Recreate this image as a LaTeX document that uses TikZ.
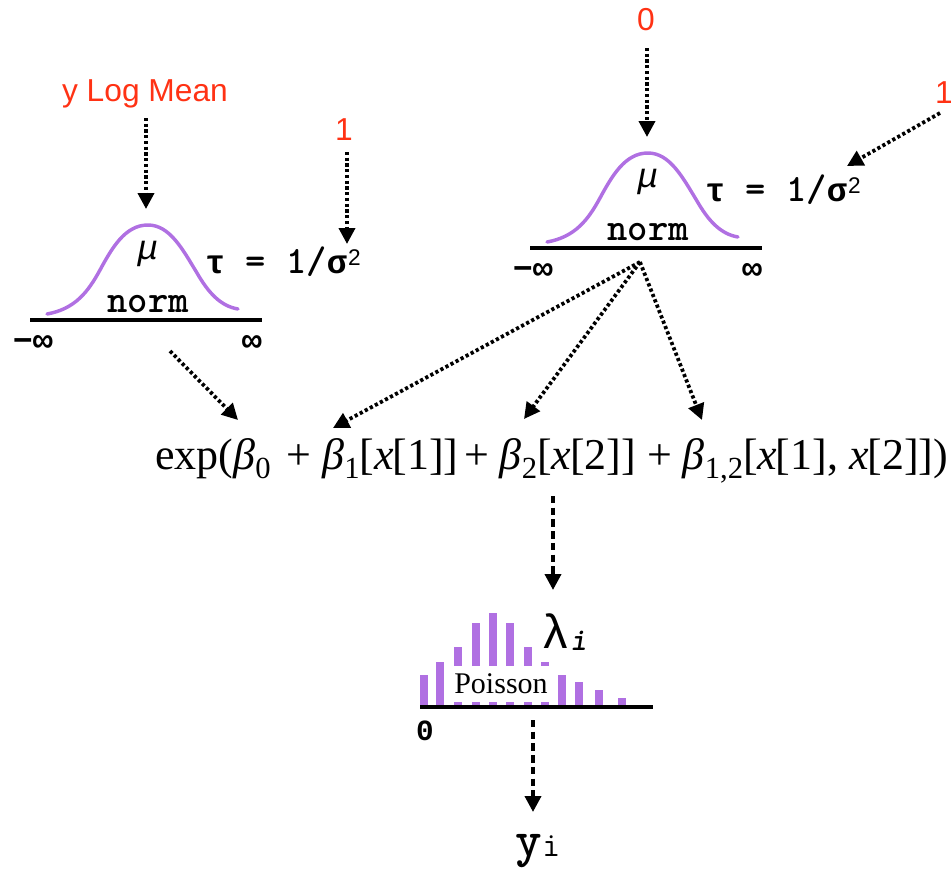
\documentclass[tikz,border=0pt]{standalone}
\usepackage{fontspec}
\setmainfont{Liberation Serif}
\setsansfont{Liberation Sans}
\newfontfamily\greekmono{Liberation Mono}
\usepackage{tikz}
\usetikzlibrary{arrows.meta, positioning}
\definecolor{labelred}{RGB}{255,50,20}
\definecolor{curvepurple}{RGB}{176,112,226}
\newcommand{\bsub}[1]{{\itshape β}\raisebox{-0.2em}{\fontsize{23}{26}\selectfont #1}}
\newcommand{\xvar}{{\itshape x}\kern-0.03em}
\newcommand{\gk}[1]{{\greekmono\fontsize{25}{28}\selectfont #1}}

\begin{document}
\begin{tikzpicture}[
    x=0.75pt, y=-0.75pt,
    redlabel/.style={inner sep=0pt, text=labelred, font=\sffamily\fontsize{23.8}{28}\selectfont},
    mono/.style={inner sep=0pt, font=\ttfamily\bfseries\fontsize{29}{32}\selectfont},
    limit/.style={inner sep=0pt, font=\greekmono\bfseries\fontsize{25}{28}\selectfont},
    axisline/.style={line width=2.8pt, black},
    bell/.style={line width=2.6pt, curvepurple, line cap=round},
    bar/.style={line width=6pt, curvepurple},
    dotarr/.style={-{Triangle[length=12pt, width=12pt]}, line width=2.8pt, dash pattern=on 2.4pt off 1.9pt},
    dasharr/.style={-{Triangle[length=12pt, width=12pt]}, line width=2.8pt, dash pattern=on 5.5pt off 3.3pt}
]
    \useasboundingbox (0,0) rectangle (951,869);

    % two normal priors
    \foreach \dx/\dy/\nm in {0/0/L, 500/-72/R} {
        \begin{scope}[shift={(\dx,\dy)}]
            \draw[bell] (47,314) .. controls (75,309) and (88,292) .. (100,270)
                .. controls (112,248) and (125,225) .. (148,225)
                .. controls (170,225) and (183,250) .. (197,273)
                .. controls (208,292) and (220,306) .. (238,309);
            \coordinate (axisa\nm) at (30,320);
            \coordinate (axisb\nm) at (262,320);
            \draw[axisline] (axisa\nm) -- (axisb\nm);
            \node (norm\nm) [mono] at (148,304) {norm};
            \node (mu\nm) [inner sep=0pt, font=\greekmono\itshape\fontsize{26}{28}\selectfont] at (148,254) {μ};
            \node (tau\nm) [mono, anchor=base west] at (205,273) {\gk{τ} = 1/\gk{σ}\kern1pt\raisebox{6pt}{\sffamily\mdseries\fontsize{17}{18}\selectfont 2}};
            \node (neg\nm) [limit] at (33,343) {−∞};
            \node (pos\nm) [limit] at (252,343) {∞};
        \end{scope}
    }

    \node (ymean) [redlabel] at (145,94) {y Log Mean};
    \node (oneL) [redlabel] at (344,130) {1};
    \node (zero) [redlabel] at (646,20) {0};
    \node (oneR) [redlabel] at (944,93) {1};

    \node (expr) [inner sep=0pt, anchor=west, font=\fontsize{33}{38}\selectfont] at (155,461)
        {exp(\bsub{0}\kern3.7pt{} + \bsub{1}[\xvar[1]]\kern-4pt{} + \bsub{2}[\xvar[2]] + \bsub{1,2}[\xvar[1], \xvar[2]])};

    % poisson bars
    \coordinate (base) at (420,707);
    \foreach \bx/\by in {424/675, 440/662, 458/647, 476/623, 493/613, 510/623, 528/647, 545/662, 562/675, 579/682, 599/690, 622/698} {
        \draw[bar] (\bx,707) -- (\bx,\by);
    }
    \node (poisson) [fill=white, inner sep=0pt, minimum width=72pt, minimum height=27pt, font=\fontsize{22.5}{26}\selectfont] at (501,684) {Poisson};
    \coordinate (baseend) at (653,707);
    \draw[axisline] (base) -- (baseend);
    \node (zeroaxis) [inner sep=0pt, font=\greekmono\bfseries\fontsize{22}{24}\selectfont] at (425,731) {0};
    \node (lambda) [inner sep=0pt, anchor=west, font=\greekmono\fontsize{36}{40}\selectfont] at (541,632) {λ\raisebox{-0.05em}{\ttfamily\itshape\bfseries\fontsize{24}{26}\selectfont i}};
    \node (yi) [inner sep=0pt, font=\ttfamily\bfseries\fontsize{38}{42}\selectfont] at (538,851) {y\mdseries\fontsize{26}{28}\selectfont i};

    % arrow ends
    \coordinate (meanstart) at (146,118);
    \coordinate (meantip) at (146,209);
    \coordinate (onestart) at (347,152);
    \coordinate (onetip) at (347,244);
    \coordinate (zerostart) at (647,48);
    \coordinate (zerotip) at (647,137);
    \coordinate (slopestart) at (940,113);
    \coordinate (slopetip) at (847,166);
    \coordinate (normout) at (170,351);
    \coordinate (betazero) at (238,420);
    \coordinate (fan) at (640,262);
    \coordinate (betaone) at (333,428);
    \coordinate (betatwo) at (524,419);
    \coordinate (betathree) at (702,420);
    \coordinate (exprout) at (553,496);
    \coordinate (lamtip) at (553,590);
    \coordinate (poisout) at (533,720);
    \coordinate (ytip) at (533,812);

    \draw[dotarr] (meanstart) -- (meantip);
    \draw[dotarr] (onestart) -- (onetip);
    \draw[dotarr] (zerostart) -- (zerotip);
    \draw[dotarr] (slopestart) -- (slopetip);
    \draw[dotarr] (normout) -- (betazero);
    \draw[dotarr] (fan) -- (betaone);
    \draw[dotarr] (fan) -- (betatwo);
    \draw[dotarr] (fan) -- (betathree);
    \draw[dasharr] (exprout) -- (lamtip);
    \draw[dasharr] (poisout) -- (ytip);
\end{tikzpicture}
\end{document}
